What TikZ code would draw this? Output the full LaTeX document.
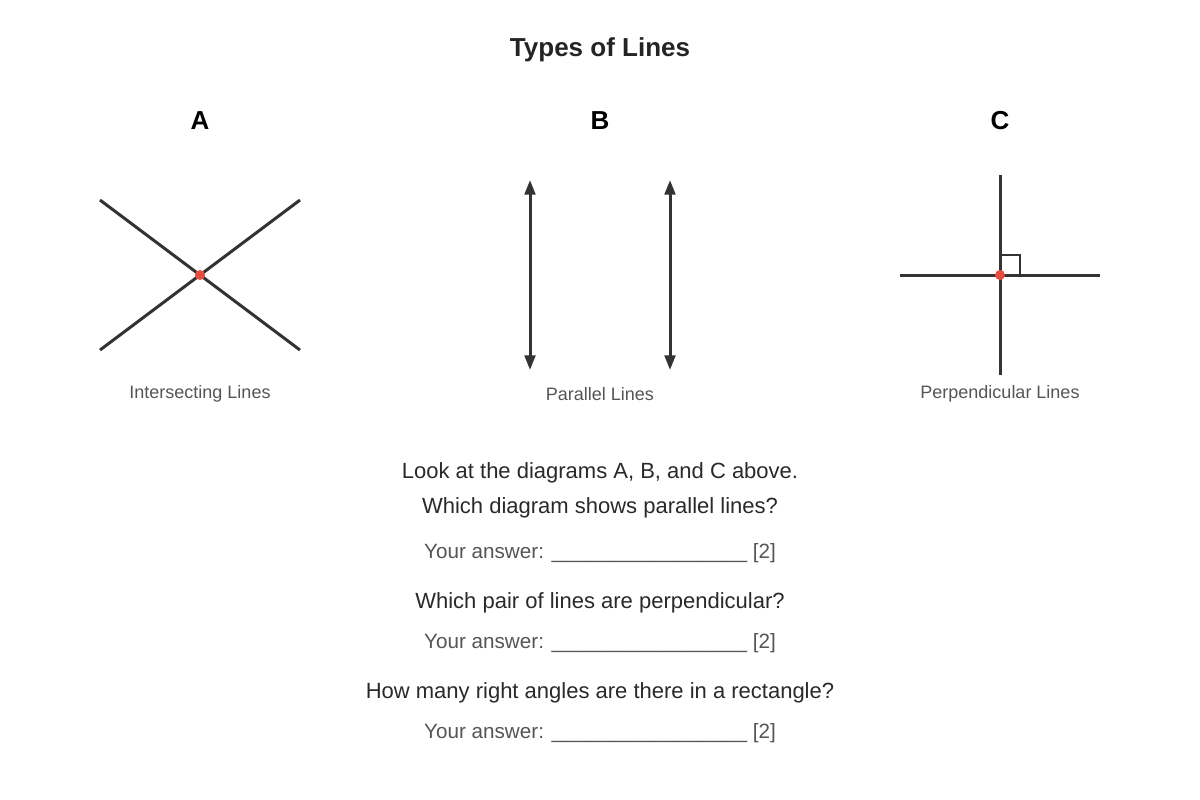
\documentclass[tikz,border=0pt]{standalone}
\usepackage{fontspec}
\setmainfont{Liberation Sans}
\usetikzlibrary{arrows.meta}
\definecolor{ink}{HTML}{333333}
\definecolor{dotred}{HTML}{E74C3C}
\definecolor{capgray}{HTML}{555555}
\begin{document}
\begin{tikzpicture}[x=0.75pt,y=-0.75pt,
  ln/.style={draw=ink,line width=2.25pt},
  arr/.style={ln,{Triangle[length=11pt,width=8pt]}-{Triangle[length=11pt,width=8pt]}},
  dot/.style={circle,fill=dotred,inner sep=0pt,minimum size=7.5pt},
  ttl/.style={font=\bfseries\fontsize{19.5}{23}\selectfont,text=ink!70!black},
  capt/.style={font=\fontsize{13.5}{16}\selectfont,text=capgray},
  q/.style={font=\fontsize{16.5}{20}\selectfont,text=ink!80!black},
  ans/.style={font=\fontsize{15.5}{19}\selectfont,text=capgray}]
\useasboundingbox (0,0) rectangle (1200,800);
\node[ttl] (title) at (600,50) {Types of Lines};
\node[ttl,text=black] (la) at (200,121) {A};
\node[ttl,text=black] (lb) at (600,121) {B};
\node[ttl,text=black] (lc) at (1000,121) {C};
% A
\coordinate (a1) at (100,200); \coordinate (a2) at (300,350);
\coordinate (a3) at (100,350); \coordinate (a4) at (300,200);
\draw[ln] (a1) -- (a2); \draw[ln] (a3) -- (a4);
\node[dot] (ad) at (200,275) {};
% B
\coordinate (b1) at (530,180); \coordinate (b2) at (530,370);
\coordinate (b3) at (670,180); \coordinate (b4) at (670,370);
\draw[arr] (b1) -- (b2); \draw[arr] (b3) -- (b4);
% C
\coordinate (c1) at (1000,175); \coordinate (c2) at (1000,375);
\coordinate (c3) at (900,275); \coordinate (c4) at (1100,275);
\draw[ln] (c1) -- (c2); \draw[ln] (c3) -- (c4);
\draw[draw=ink,line width=1.6pt] (1000,255) -- (1020,255) -- (1020,275);
\node[dot] (cd) at (1000,275) {};
\node[capt] (ca) at (200,394) {Intersecting Lines};
\node[capt] (cb) at (600,394) {Parallel Lines};
\node[capt] (cc) at (1000,394) {Perpendicular Lines};
\node[q] (q1) at (600,473) {Look at the diagrams A, B, and C above.};
\node[q] (q2) at (600,508) {Which diagram shows parallel lines?};
\node[ans] (a1t) at (600,553) {Your answer: \_\_\_\_\_\_\_\_\_\_\_\_\_\_\_\_\_ [2]};
\node[q] (q3) at (600,603) {Which pair of lines are perpendicular?};
\node[ans] (a2t) at (600,643) {Your answer: \_\_\_\_\_\_\_\_\_\_\_\_\_\_\_\_\_ [2]};
\node[q] (q4) at (600,693) {How many right angles are there in a rectangle?};
\node[ans] (a3t) at (600,733) {Your answer: \_\_\_\_\_\_\_\_\_\_\_\_\_\_\_\_\_ [2]};
\end{tikzpicture}
\end{document}
